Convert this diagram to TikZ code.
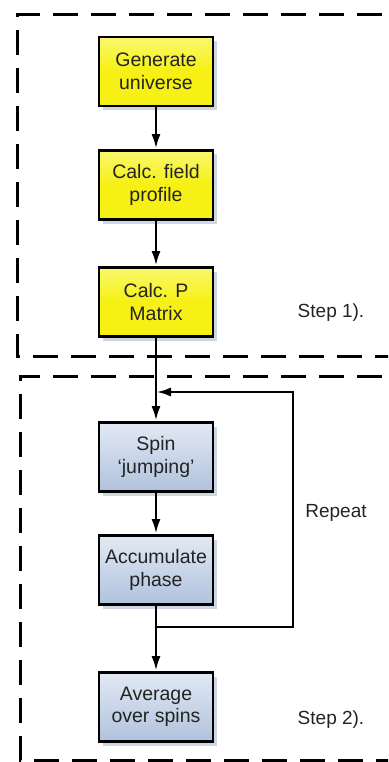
\documentclass[tikz,border=0pt]{standalone}
\usepackage{fontspec}
\setmainfont{Liberation Sans}
\usetikzlibrary{arrows.meta,shadows}
\definecolor{txt}{RGB}{35,35,35}
\definecolor{ytop}{RGB}{250,248,110}
\definecolor{ybot}{RGB}{246,240,20}
\definecolor{btop}{RGB}{226,233,243}
\definecolor{bbot}{RGB}{176,194,221}
\definecolor{shd}{RGB}{196,204,220}
\tikzset{
  procbox/.style={draw=black, line width=2.8pt, minimum width=114pt, minimum height=69pt,
    align=center, text=txt, font=\fontsize{19.5}{22.5}\selectfont,
    drop shadow={shadow xshift=4pt, shadow yshift=-4pt, fill=shd, opacity=0.8}},
  ybox/.style={procbox, top color=ytop, bottom color=ybot, middle color=ybot},
  bbox/.style={procbox, top color=btop, bottom color=bbot},
  flow/.style={line width=2.8pt, -{Latex[length=15pt,width=9pt]}},
  frame/.style={line width=3pt, dash pattern=on 25pt off 13pt},
  lbl/.style={text=txt, font=\fontsize{19}{22}\selectfont}
}
\begin{document}
\begin{tikzpicture}[x=1pt,y=-1pt]
  \useasboundingbox (0,0) rectangle (388,762);
  \fill[white] (0,0) rectangle (388,762);
  \begin{scope}
    \clip (0,0) rectangle (388,762);
    % stage frames
    \draw[frame] (420,15) -- (17,15) -- (17,356) -- (420,356);
    \draw[frame] (420,376) -- (20,376) -- (20,760) -- (420,760);
  \end{scope}

  % stage 1 boxes
  \node[ybox] (gen)   at (156,71.5) {Generate\\universe};
  \node[ybox] (field) at (156,185)  {Calc. field\\profile};
  \node[ybox] (pmat)  at (156,302)  {Calc. P\\Matrix};
  % stage 2 boxes
  \node[bbox] (spin)  at (156,457)  {Spin\\`jumping'};
  \node[bbox] (acc)   at (156,570)  {Accumulate\\phase};
  \node[bbox] (avg)   at (156,707)  {Average\\over spins};

  \coordinate (jn) at (156,627);
  \coordinate (fb) at (156,392);

  \draw[flow] (gen) -- (field);
  \draw[flow] (field) -- (pmat);
  \draw[flow] (pmat) -- (spin);
  \draw[flow] (spin) -- (acc);
  \draw[flow] (acc) -- (avg);
  \draw[flow] (jn) -- ++(137,0) |- (fb);

  \node[lbl] (s1) at (331,313) {Step 1).};
  \node[lbl] (rp) at (336,513) {Repeat};
  \node[lbl] (s2) at (331,720) {Step 2).};
\end{tikzpicture}
\end{document}
